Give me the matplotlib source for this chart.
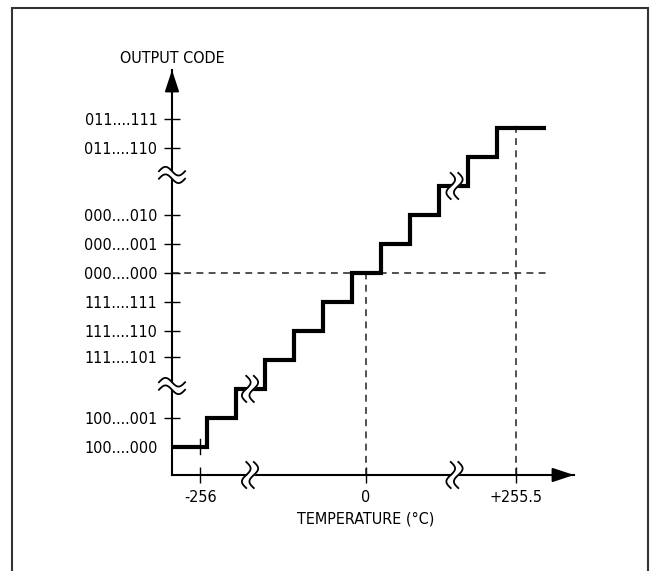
import matplotlib
matplotlib.use("Agg")
import matplotlib.pyplot as plt
import numpy as np
from matplotlib import font_manager as fm
from matplotlib.patches import Rectangle

# pick a condensed face if one is installed, else a plain sans a bit smaller
fonts = fm.fontManager.ttflist
narrow = [f for f in fonts if 'Narrow' in f.name or 'Condensed' in f.name
          or (f.name == 'DejaVu Sans' and f.stretch == 'condensed' and f.weight in (400, 'normal'))]
if narrow:
    fam = narrow[0].name
    stretch = 'condensed' if fam == 'DejaVu Sans' else 'normal'
    fsize = 11.5
else:
    fam = 'Liberation Sans'
    stretch = 'normal'
    fsize = 11.5
plt.rcParams['font.family'] = [fam, 'DejaVu Sans']
plt.rcParams['font.stretch'] = stretch

# plot units: one step = one unit in both directions (broken axes)
step_edges = [-6.69, -5.5, -4.5, -3.5, -2.5, -1.5, -0.5, 0.5, 1.5, 2.5, 3.5, 4.5, 6.2]
code_levels = [-6, -5, -4, -3, -2, -1, 0, 1, 2, 3, 4, 5]

y_tick_pos = [5.3, 4.3, 2, 1, 0, -1, -2, -2.9, -5, -6]
y_tick_labels = ['011....111', '011....110', '000....010', '000....001', '000....000',
                 '111....111', '111....110', '111....101', '100....001', '100....000']

x_tick_pos = [-5.72, 0, 5.17]
x_tick_labels = ['-256', '0', '+255.5']

x_breaks = [-4.0, 3.05]
stair_breaks = [(-4.0, -4), (3.05, 3)]
y_breaks = [3.38, -3.9]

xmin, xmax = -6.69, 7.17
ymin, ymax = -6.97, 7.0

fig = plt.figure(figsize=(6.5, 5.71), dpi=100)
ax = fig.add_axes([172/650, 1 - 475/571, (574-172)/650, (475-70)/571])
ax.set_xlim(xmin, xmax)
ax.set_ylim(ymin, ymax)

for s in ['top', 'right']:
    ax.spines[s].set_visible(False)
for s in ['left', 'bottom']:
    ax.spines[s].set_linewidth(1.5)

ax.set_yticks(y_tick_pos, y_tick_labels)
ax.set_xticks(x_tick_pos, x_tick_labels)
ax.tick_params(direction='inout', length=12, width=1, pad=4.5, labelsize=fsize)
ax.yaxis.get_major_ticks()[-1].tick1line.set_visible(False)

# staircase
ax.stairs(code_levels, step_edges, baseline=None, color='black', lw=3, zorder=3)

# small tick on the first step at -256
ax.plot([x_tick_pos[0]] * 2, [code_levels[0] - 0.26, code_levels[0] + 0.26],
        color='black', lw=1, zorder=4)

# dashed guides
dash = dict(color='#222222', lw=1.1, dashes=(4.5, 3.5), zorder=2)
ax.plot([xmin, 6.28], [0, 0], **dash)
ax.plot([x_tick_pos[1]] * 2, [ymin, 0], **dash)
ax.plot([x_tick_pos[2]] * 2, [ymin, 5.2], **dash)

# arrow heads
arr = dict(arrowstyle='-|>,head_length=1.3,head_width=0.43', color='black',
           lw=1.5, shrinkA=0, shrinkB=0, mutation_scale=10)
ax.annotate('', xy=(xmin, ymax), xytext=(xmin, ymax - 0.8), arrowprops=arr,
            annotation_clip=False)
ax.annotate('', xy=(xmax, ymin), xytext=(xmax - 0.8, ymin), arrowprops=arr,
            annotation_clip=False)


def vbreak(x0, y0):
    # two S-shaped strokes on a horizontal line
    t = np.linspace(-0.45, 0.45, 80)
    a = 0.15
    g = 0.26
    s = a * np.sin(2 * np.pi * t / 0.9)
    ax.fill_betweenx(t + y0, x0 - g / 2 + s, x0 + g / 2 + s, color='white',
                     zorder=5, clip_on=False, lw=0)
    for off in (-g / 2, g / 2):
        ax.plot(x0 + off + s, y0 + t, color='black', lw=1.3, zorder=6, clip_on=False)


def hbreak(x0, y0):
    # two wave strokes across the vertical axis
    t = np.linspace(-0.45, 0.45, 80)
    a = 0.15
    g = 0.26
    s = -a * np.sin(2 * np.pi * t / 0.9)
    ax.fill_between(t + x0, y0 - g / 2 + s, y0 + g / 2 + s, color='white',
                    zorder=5, clip_on=False, lw=0)
    for off in (-g / 2, g / 2):
        ax.plot(x0 + t, y0 + off + s, color='black', lw=1.3, zorder=6, clip_on=False)


for xb in x_breaks:
    vbreak(xb, ymin)
for xb, yb in stair_breaks:
    vbreak(xb, yb)
for yb in y_breaks:
    hbreak(xmin, yb)

ax.text(xmin, 7.41, 'OUTPUT CODE', ha='center', va='center', fontsize=fsize)
ax.text(0, -8.48, 'TEMPERATURE (°C)', ha='center', va='center', fontsize=fsize)

fig.patches.append(Rectangle((12/650, -0.1), (648-12)/650, 1 - 8/571 + 0.1,
                             transform=fig.transFigure, fill=False,
                             edgecolor='#333333', lw=1.5))

fig.savefig('out.png', dpi=100)
